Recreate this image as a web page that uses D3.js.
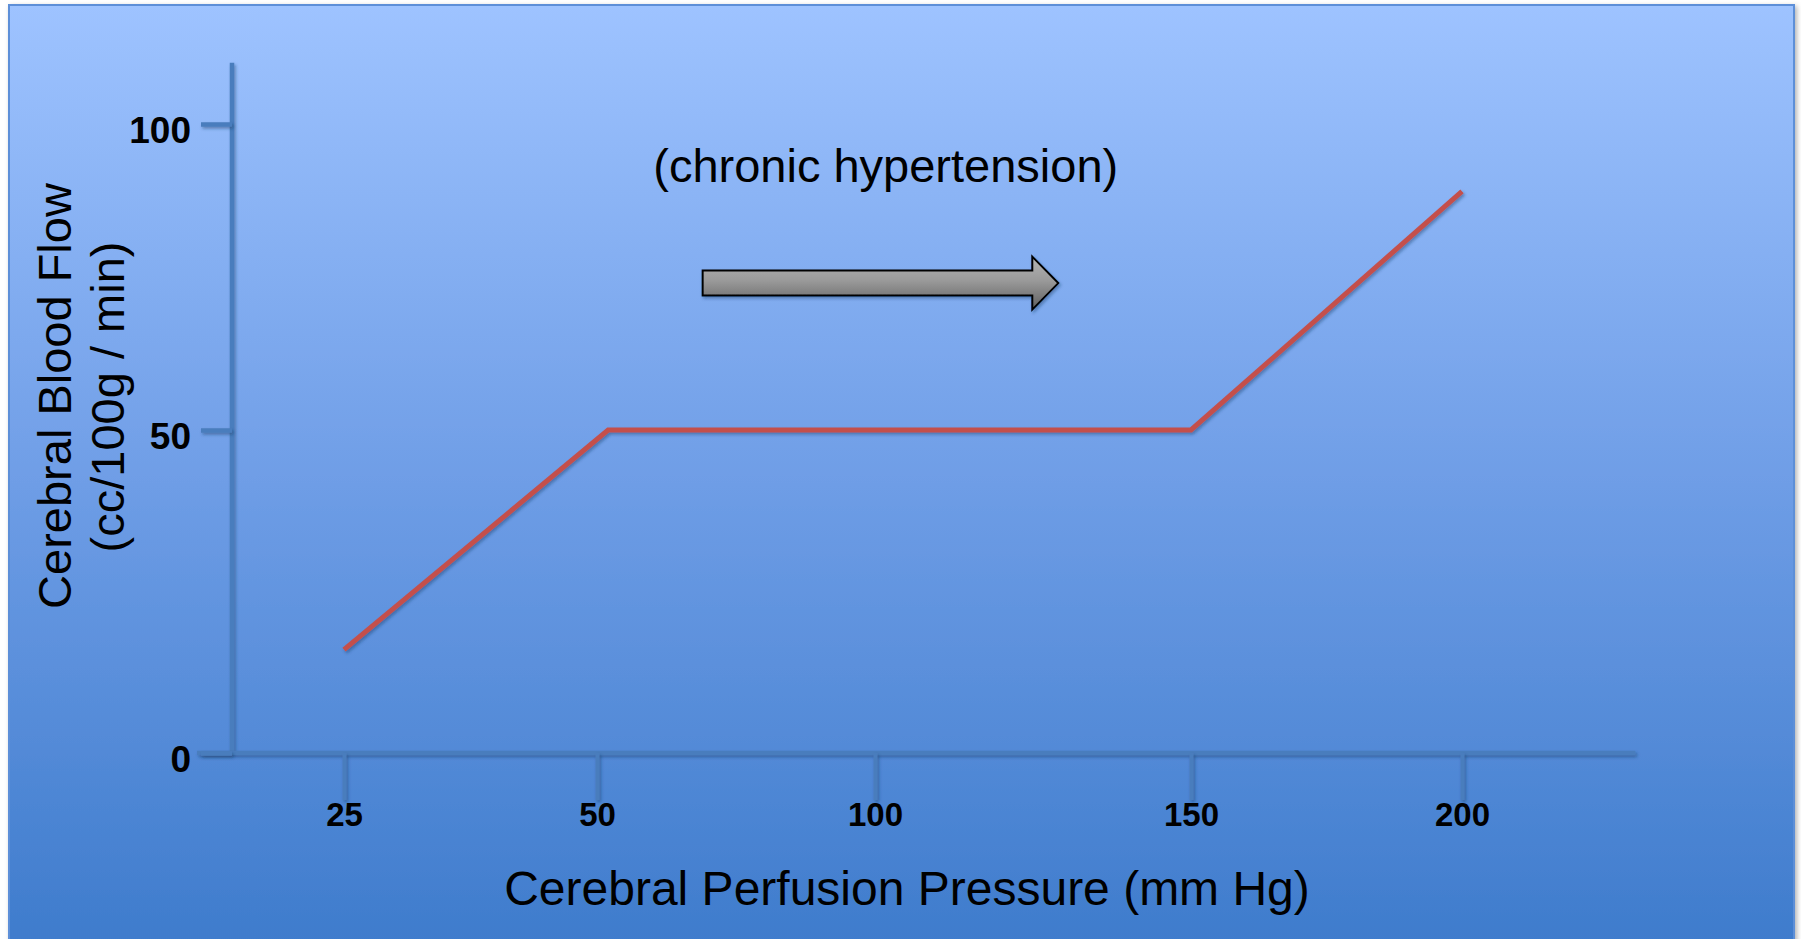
<!DOCTYPE html>
<head>
<meta charset="utf-8">
<title>Cerebral autoregulation</title>
<script src="https://d3js.org/d3.v7.min.js"></script>
<style>
  body { margin: 0; background: #fff; }
  text { font-family: "Liberation Sans", Arial, sans-serif; fill: #000; }
</style>
</head>
<body>
<div id="container"></div>
<script>
//---------------------------- DATA ----------------------------//
const pressure = [25, 52, 150, 200];      // mm Hg
const flow = [16, 50, 50, 89];            // cc/100g/min
const xTicks = [25, 50, 100, 150, 200];
const yTicks = [0, 50, 100];
const note = "(chronic hypertension)";
const arrowFrom = [69, 74];
const arrowTo = [129, 74];

//---------------------------- SVG -----------------------------//
const width = 1801, height = 939;
const svg = d3.select("#container").append("svg")
    .attr("width", width)
    .attr("height", height);

const defs = svg.append("defs");
const bg = defs.append("linearGradient").attr("id", "bg")
    .attr("x1", 0).attr("y1", 0).attr("x2", 0).attr("y2", 1);
bg.append("stop").attr("offset", "0%").attr("stop-color", "#9ec3ff");
bg.append("stop").attr("offset", "50%").attr("stop-color", "#6e9de6");
bg.append("stop").attr("offset", "100%").attr("stop-color", "#3c7acb");

const grey = defs.append("linearGradient").attr("id", "grey")
    .attr("x1", 0).attr("y1", 0).attr("x2", 0).attr("y2", 1);
grey.append("stop").attr("offset", "0%").attr("stop-color", "#b4b4b4");
grey.append("stop").attr("offset", "45%").attr("stop-color", "#9a9a9a");
grey.append("stop").attr("offset", "100%").attr("stop-color", "#5e5e5e");

// user space region so that straight lines (zero-size bbox) still render,
// padded so it also covers groups that are translated
const shadow = defs.append("filter").attr("id", "shadow")
    .attr("filterUnits", "userSpaceOnUse")
    .attr("x", -width).attr("y", -height)
    .attr("width", width * 3).attr("height", height * 3);
shadow.append("feDropShadow").attr("dx", 1.5).attr("dy", 2).attr("stdDeviation", 1.5)
    .attr("flood-color", "#1d3a66").attr("flood-opacity", 0.45);

const panelShadow = defs.append("filter").attr("id", "panelShadow")
    .attr("filterUnits", "userSpaceOnUse")
    .attr("x", 0).attr("y", 0).attr("width", width).attr("height", height + 40);
panelShadow.append("feDropShadow").attr("dx", 2).attr("dy", 2).attr("stdDeviation", 2.5)
    .attr("flood-color", "#000").attr("flood-opacity", 0.3);

// background panel
svg.append("rect")
    .attr("x", 9).attr("y", 5)
    .attr("width", 1785).attr("height", 960)
    .attr("fill", "url(#bg)")
    .attr("stroke", "#5d8fd8")
    .attr("stroke-width", 2)
    .attr("filter", "url(#panelShadow)");

//--------------------------- SCALES ---------------------------//
// the original is hand drawn, so the ticks are not evenly spaced
const x = d3.scaleLinear()
    .domain(xTicks)
    .range([344, 597, 875, 1191, 1462]);
const y = d3.scaleLinear()
    .domain(yTicks)
    .range([753, 430, 124]);

const axisColor = "#4a7dbd";

//---------------------------- AXES ----------------------------//
// axis lines first, ticks on top
svg.append("line")
    .attr("x1", 232).attr("x2", 232)
    .attr("y1", y(110)).attr("y2", y(0))
    .attr("stroke", axisColor).attr("stroke-width", 4.5)
    .attr("filter", "url(#shadow)");
svg.append("line")
    .attr("x1", 197).attr("x2", x(232))
    .attr("y1", y(0)).attr("y2", y(0))
    .attr("stroke", axisColor).attr("stroke-width", 4.5)
    .attr("filter", "url(#shadow)");

const gx = svg.append("g")
    .attr("transform", "translate(0," + y(0) + ")")
    .call(d3.axisBottom(x).tickValues(xTicks).tickSize(47).tickPadding(3)
        .tickFormat(d3.format("d")));
gx.select(".domain").remove();
gx.selectAll(".tick line")
    .attr("stroke", axisColor).attr("stroke-width", 4)
    .attr("filter", "url(#shadow)");
gx.selectAll(".tick text")
    .style("font-size", "33px").style("font-weight", "bold")
    .attr("fill", "#000");

const gy = svg.append("g")
    .attr("transform", "translate(232,0)")
    .call(d3.axisLeft(y).tickValues(yTicks).tickSize(31).tickPadding(10));
gy.select(".domain").remove();
gy.selectAll(".tick line")
    .attr("stroke", axisColor).attr("stroke-width", 4.5)
    .attr("filter", "url(#shadow)");
gy.selectAll(".tick text")
    .attr("dy", "0.5em")
    .style("font-size", "37px").style("font-weight", "bold")
    .attr("fill", "#000");

//---------------------------- LINE ----------------------------//
const line = d3.line()
    .x(function(d, i) { return x(pressure[i]); })
    .y(function(d) { return y(d); });

svg.append("path")
    .datum(flow)
    .attr("d", line)
    .attr("fill", "none")
    .attr("stroke", "#c4504c")
    .attr("stroke-width", 5)
    .attr("filter", "url(#shadow)");

//------------------------- ANNOTATION -------------------------//
svg.append("text")
    .attr("x", x(101.7)).attr("y", y(90.5))
    .attr("text-anchor", "middle")
    .style("font-size", "47px")
    .text(note);

const ax0 = x(arrowFrom[0]), ax1 = x(arrowTo[0]), ay = y(arrowFrom[1]);
const shaft = 12.5, head = 26.5, headLen = 26;
const arrowPts = [
    [ax0, ay - shaft], [ax1 - headLen, ay - shaft], [ax1 - headLen, ay - head],
    [ax1, ay], [ax1 - headLen, ay + head], [ax1 - headLen, ay + shaft], [ax0, ay + shaft]
];
svg.append("path")
    .attr("d", d3.line()(arrowPts) + "Z")
    .attr("fill", "url(#grey)")
    .attr("stroke", "#000")
    .attr("stroke-width", 2)
    .attr("stroke-linejoin", "miter")
    .attr("filter", "url(#shadow)");

//--------------------------- LABELS ---------------------------//
svg.append("text")
    .attr("x", 907).attr("y", 905)
    .attr("text-anchor", "middle")
    .style("font-size", "48px")
    .text("Cerebral Perfusion Pressure (mm Hg)");

const yTitle = svg.append("text")
    .attr("transform", "rotate(-90)")
    .attr("text-anchor", "middle")
    .style("font-size", "47px");
yTitle.append("tspan").attr("x", -396).attr("y", 71).text("Cerebral Blood Flow");
yTitle.append("tspan").attr("x", -397).attr("y", 124).text("(cc/100g / min)");
</script>
</body>
